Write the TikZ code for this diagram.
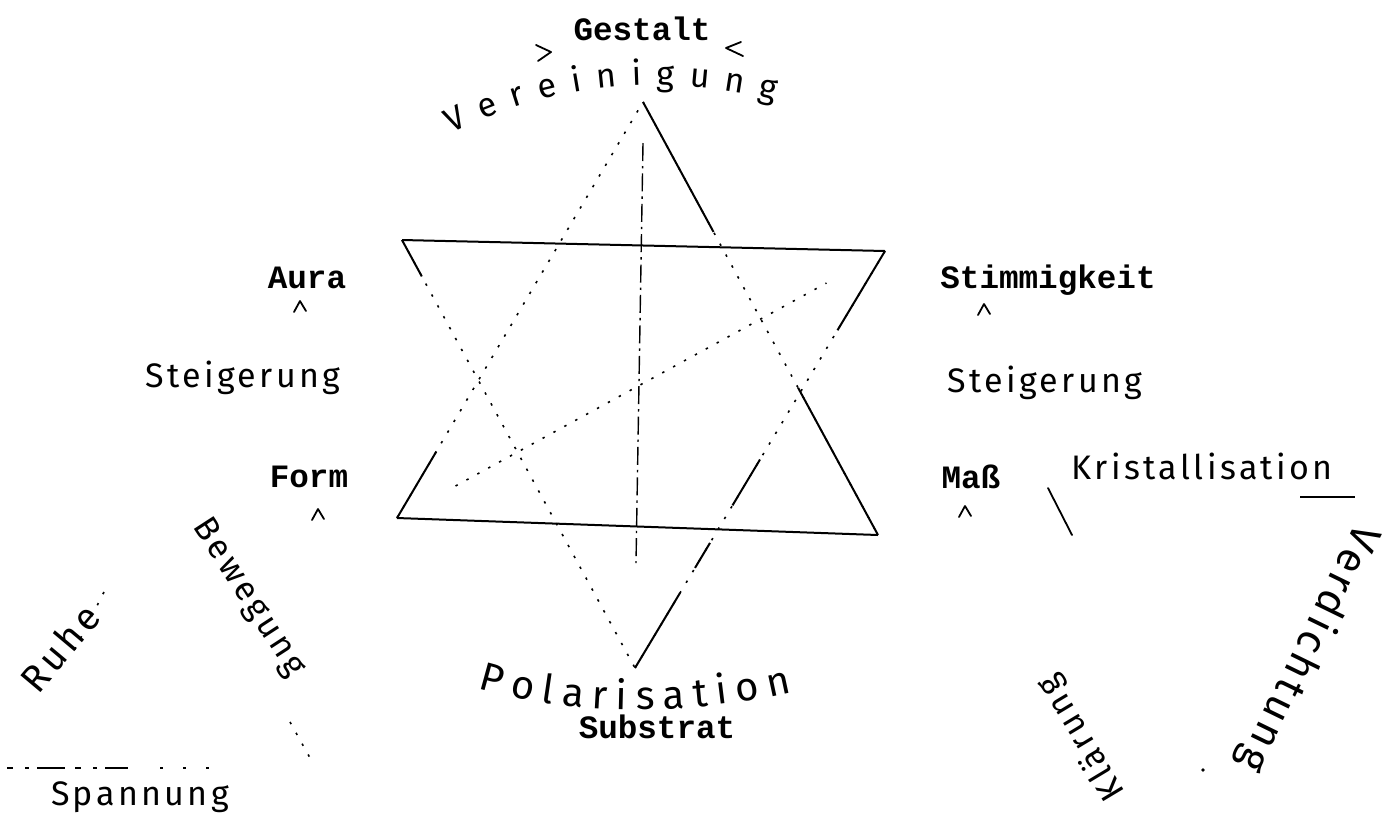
\documentclass[tikz,border=0pt]{standalone}
\usepackage{fontspec}
\usetikzlibrary{calc, decorations.text}
\newfontfamily\typofont{Liberation Mono}
\newfontfamily\handfont{Fira Sans}[LetterSpace=10]

\tikzset{
  typo/.style={font=\typofont\bfseries\fontsize{16.3}{19}\selectfont, inner sep=0pt},
  hand/.style={font=\handfont\fontsize{#1}{#1}\selectfont, inner sep=0pt},
  hand/.default=17,
  rim/.style={line width=1pt},
  faint/.style={line width=0.8pt, dash pattern=on 1.2pt off 5pt},
  midaxis/.style={line width=0.7pt, dash pattern=on 9pt off 2.5pt on 1.2pt off 2.5pt},
  pen/.style={line width=0.9pt, line cap=round, line join=round},
  caret/.pic={\draw[pen] (-6,6) -- (0,-5) -- (6,5);}
}

\begin{document}
\begin{tikzpicture}[x=0.5pt, y=-0.5pt]
\useasboundingbox (0,0) rectangle (1382,821);

% corners of the double pyramid
\coordinate (T)  at (643,102);
\coordinate (B)  at (635,668);
\coordinate (TL) at (402,240);
\coordinate (TR) at (885,251);
\coordinate (BR) at (878,535);
\coordinate (BL) at (397,518);
\coordinate (ax1) at (643,143);
\coordinate (ax2) at (636,563);

\draw[rim] (TL) -- (TR);
\draw[rim] (BL) -- (BR);
\draw[midaxis] (ax1) -- (ax2);
\draw[faint] ($(BL)!0.12!(TR)$) -- ($(BL)!0.88!(TR)$);

\draw[faint] (T) -- (BR);
\draw[rim] (T) -- ($(T)!0.30!(BR)$);
\draw[rim] ($(T)!0.66!(BR)$) -- (BR);

\draw[faint] (TR) -- (B);
\draw[rim] (TR) -- ($(TR)!0.19!(B)$);
\draw[rim] ($(TR)!0.50!(B)$) -- ($(TR)!0.61!(B)$);
\draw[rim] ($(TR)!0.70!(B)$) -- ($(TR)!0.76!(B)$);
\draw[rim] ($(TR)!0.82!(B)$) -- (B);

\draw[faint] (TL) -- (B);
\draw[rim] (TL) -- ($(TL)!0.085!(B)$);

\draw[faint] (BL) -- (T);
\draw[rim] (BL) -- ($(BL)!0.16!(T)$);

% typed labels
\node[typo] (gestalt) at (642,29) {Gestalt};
\node[typo] (aura) at (307,278) {Aura};
\node[typo] (stimmig) at (1048,280) {Stimmigkeit};
\node[typo] (form) at (309,477) {Form};
\node[typo] (mass) at (971,477) {Maß};
\node[typo] (substrat) at (657,727) {Substrat};

\pic (auracaret) at (300,306) {caret};
\pic (stimcaret) at (984,309) {caret};
\pic (formcaret) at (318,514) {caret};
\pic (masscaret) at (965,511) {caret};
\draw[pen] (536,45) -- (551,52) -- (538,61);
\draw[pen] (741,42) -- (726,48) -- (743,56);

% handwritten words
\path[decorate, decoration={text along path, text align={fit to path},
  text={|\handfont\fontsize{17}{17}\selectfont|Vereinigung}}]
  (452,134) .. controls (540,88) and (650,70) .. (775,100);
\path[decorate, decoration={text along path, text align={fit to path},
  text={|\handfont\fontsize{20}{20}\selectfont|Polarisation}}]
  (478,688) .. controls (570,716) and (690,716) .. (792,692);

\node[hand] (steigl) at (243,378) {Steigerung};
\node[hand] (steigr) at (1045,383) {Steigerung};
\node[hand] (krist) at (1202,466) {Kristallisation};
\node[hand=17, rotate=121] (klaer) at (1082,738) {Klärung};
\node[hand=21, rotate=-116] (verd) at (1308,648) {Verdichtung};
\node[hand=19, rotate=50] (ruhe) at (60,648) {Ruhe};
\node[hand=17, rotate=-57] (beweg) at (248,598) {Bewegung};
\node[hand] (spann) at (140,797) {Spannung};

% small triangles
\draw[pen] (1048,488) -- (1072,535);
\draw[rim] (1300,497) -- (1355,497);
\fill (1203,770) circle (1.8);
\draw[faint] (104,592) -- (72,655);
\draw[faint] (290,722) -- (314,765);
\draw[line width=0.8pt, dash pattern=on 3pt off 6pt on 2pt off 4pt on 14pt off 5pt] (7,768) -- (128,768);
\draw[faint, dash pattern=on 1.5pt off 10pt] (160,768) -- (213,768);
\end{tikzpicture}
\end{document}
